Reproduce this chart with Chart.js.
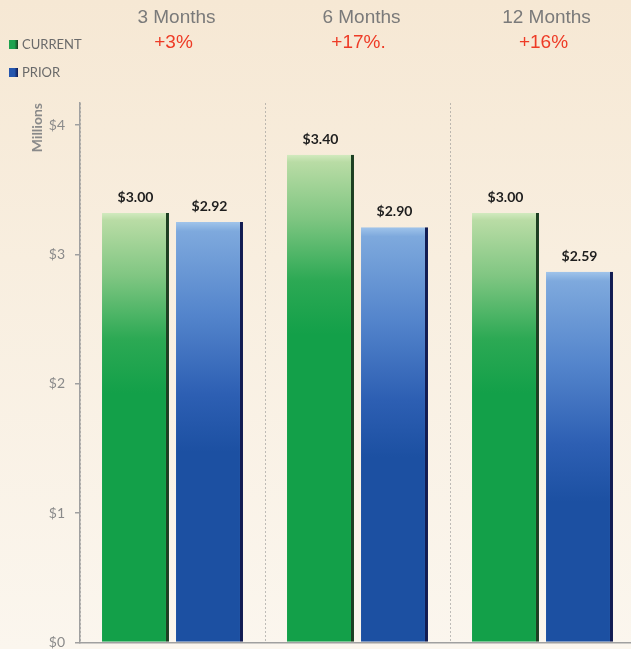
<!DOCTYPE html>
<html>
<head>
<meta charset="utf-8">
<script src="https://cdn.jsdelivr.net/npm/chart.js@4"></script>
<style>
  html, body { margin: 0; padding: 0; overflow: hidden; }
  body { width: 631px; height: 649px; background: linear-gradient(to bottom, #f6e8d4 0%, #f8eedf 40%, #fbf6ee 100%); position: relative; }
  #wrap { position: absolute; left: 0; top: 0; width: 640px; height: 661px; }
  .legend { position: absolute; left: 9px; font: 13px Lato, "Liberation Sans", sans-serif; color: #6a6a6a; display: flex; align-items: center; }
  .legend span.sw { display: inline-block; width: 9px; height: 9px; margin-right: 4px; }
</style>
</head>
<body>
<div id="wrap"><canvas id="c" width="640" height="661"></canvas></div>
<div class="legend" style="top:36px"><span class="sw" style="background:linear-gradient(to right,#1fa24e 60%,#1a3d1f)"></span>CURRENT</div>
<div class="legend" style="top:64px"><span class="sw" style="background:linear-gradient(to right,#2556ae 60%,#101a50)"></span>PRIOR</div>
<script>
// ---- data ----
const periods = ['3 Months', '6 Months', '12 Months'];
const pctChanges = ['+3%', '+17%.', '+16%'];
const seriesNames = ['CURRENT', 'PRIOR'];
const currentValues = [3.32, 3.77, 3.32];   // bar heights on the Millions axis
const priorValues = [3.25, 3.21, 2.865];
const currentLabels = ['$3.00', '$3.40', '$3.00'];
const priorLabels = ['$2.92', '$2.90', '$2.59'];
const yTicks = [0, 1, 2, 3, 4];

function barGradient(stops, span, fallback) {
  return (ctx) => {
    const chart = ctx.chart;
    const area = chart.chartArea;
    if (!area || ctx.type !== 'data') return fallback;
    const yScale = chart.scales.y;
    const top = yScale.getPixelForValue(ctx.raw);
    const g = chart.ctx.createLinearGradient(0, top, 0, top + span);
    stops.forEach(s => g.addColorStop(s[0], s[1]));
    return g;
  };
}

const greenStops = [[0, '#d2eabf'], [0.04, '#b9dca5'], [0.35, '#80c682'], [0.7, '#2ca954'], [1, '#13a049']];
const blueStops = [[0, '#a0c4ea'], [0.04, '#7ea9dd'], [0.4, '#5485cc'], [0.75, '#2d5fb3'], [1, '#1c50a2']];

const valueLabelPlugin = {
  id: 'valueLabels',
  afterDatasetsDraw(chart) {
    const ctx = chart.ctx;
    const labelSets = [currentLabels, priorLabels];
    ctx.save();
    ctx.font = 'bold 14px Lato, "Liberation Sans", sans-serif';
    ctx.fillStyle = '#1e1e1e';
    ctx.textAlign = 'center';
    ctx.textBaseline = 'alphabetic';
    chart.data.datasets.forEach((ds, di) => {
      const meta = chart.getDatasetMeta(di);
      meta.data.forEach((el, i) => {
        ctx.fillText(labelSets[di][i], el.x, el.y - 11);
      });
    });
    ctx.restore();
  }
};

const headerPlugin = {
  id: 'headers',
  afterDraw(chart) {
    const ctx = chart.ctx;
    const xs = chart.scales.x;
    ctx.save();
    ctx.textAlign = 'center';
    ctx.textBaseline = 'middle';
    ctx.font = '19px "Liberation Sans", Arial, sans-serif';
    periods.forEach((p, i) => {
      const x = xs.getPixelForValue(i);
      ctx.fillStyle = '#7a7a7a';
      ctx.fillText(p, x + 4, 18);
      ctx.fillStyle = '#ee3b26';
      ctx.fillText(pctChanges[i], x + 1, 43);
    });
    ctx.restore();
  }
};

new Chart(document.getElementById('c'), {
  type: 'bar',
  data: {
    labels: periods,
    datasets: [
      {
        label: seriesNames[0],
        data: currentValues,
        backgroundColor: barGradient(greenStops, 180, '#1fa24e'),
        borderColor: '#1d3f22',
        borderWidth: { right: 3, left: 0, top: 0, bottom: 0 },
        borderSkipped: false,
        barPercentage: 0.905,
        categoryPercentage: 0.8
      },
      {
        label: seriesNames[1],
        data: priorValues,
        backgroundColor: barGradient(blueStops, 230, '#2556ae'),
        borderColor: '#121c52',
        borderWidth: { right: 3, left: 0, top: 0, bottom: 0 },
        borderSkipped: false,
        barPercentage: 0.905,
        categoryPercentage: 0.8
      }
    ]
  },
  options: {
    responsive: false,
    animation: false,
    devicePixelRatio: 1,
    layout: { padding: { top: 103, bottom: 7, left: 0, right: 5 } },
    plugins: { legend: { display: false }, tooltip: { enabled: false } },
    scales: {
      x: {
        offset: true,
        ticks: { display: false },
        grid: { display: true, offset: true, drawTicks: false, color: 'rgba(140,140,140,0.55)', lineWidth: 1 },
        border: { display: true, color: '#a0a0a0', width: 1.5, dash: [2, 2] }
      },
      y: {
        min: 0,
        max: 4.17,
        afterFit(scale) { scale.width = 80; },
        afterBuildTicks(scale) { scale.ticks = yTicks.map(v => ({ value: v })); },
        ticks: {
          padding: 10,
          color: '#8a8a8a',
          font: { family: 'Lato, "Liberation Sans", sans-serif', size: 14 },
          callback: v => '$' + v
        },
        grid: { drawOnChartArea: false, drawTicks: true, tickLength: 5, color: '#a0a0a0', lineWidth: 1.5 },
        border: { display: true, color: '#a0a0a0', width: 1.5 },
        title: {
          display: true,
          text: 'Millions',
          align: 'end',
          color: '#8a8a8a',
          padding: { top: 29, bottom: 0 },
          font: { family: 'Lato, "Liberation Sans", sans-serif', size: 14, weight: 'bold' }
        }
      }
    }
  },
  plugins: [valueLabelPlugin, headerPlugin]
});
</script>
</body>
</html>
